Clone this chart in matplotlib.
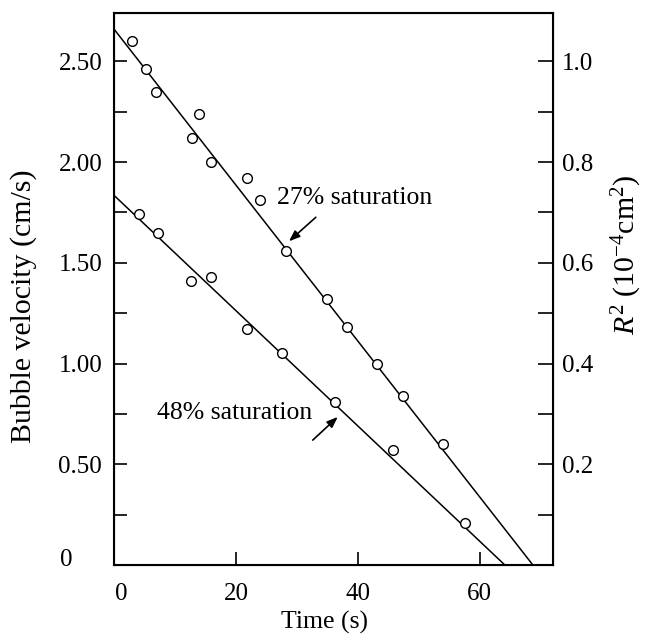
import matplotlib
matplotlib.use("Agg")
import matplotlib.pyplot as plt
import matplotlib.transforms as mtransforms
import numpy as np

plt.rcParams['font.family'] = 'Liberation Serif'
plt.rcParams['mathtext.fontset'] = 'custom'
plt.rcParams['mathtext.rm'] = 'Liberation Serif'
plt.rcParams['mathtext.it'] = 'Liberation Serif:italic'

# 27% saturation points (time s, velocity cm/s)
t27 = [2.95, 5.25, 6.9, 13.9, 12.8, 15.9, 21.8, 23.9, 28.2, 34.9, 38.2, 43.1, 47.4, 53.9]
v27 = [2.60, 2.46, 2.35, 2.24, 2.12, 2.00, 1.92, 1.81, 1.56, 1.32, 1.18, 1.00, 0.84, 0.60]

# 48% saturation points
t48 = [4.1, 7.2, 12.6, 15.9, 21.8, 27.5, 36.2, 45.7, 57.5]
v48 = [1.74, 1.65, 1.41, 1.43, 1.17, 1.05, 0.81, 0.57, 0.21]

# fitted lines: velocity at t=0 and time where velocity reaches 0
fit27 = [2.66, 68.7]
fit48 = [1.835, 64.1]

xticks = [0, 20, 40, 60]
yticks = [0, 0.5, 1.0, 1.5, 2.0, 2.5]
ylabels = ['0', '0.50', '1.00', '1.50', '2.00', '2.50']
r2ticks = [0.2, 0.4, 0.6, 0.8, 1.0]
r2labels = ['0.2', '0.4', '0.6', '0.8', '1.0']

fig = plt.figure(figsize=(6.45, 6.42), dpi=100)
ax = fig.add_axes([114/645, 1 - 565/642, 439/645, 552/642])

# fitted lines
ax.plot([0, fit27[1]], [fit27[0], 0], color='black', lw=1.1)
ax.plot([0, fit48[1]], [fit48[0], 0], color='black', lw=1.1)

# data points
ax.plot(t27, v27, 'o', mfc='white', mec='black', mew=1.0, ms=7)
ax.plot(t48, v48, 'o', mfc='white', mec='black', mew=1.0, ms=7)

ax.set_xlim(0, 72)
ax.set_ylim(0, 2.74)

ax.set_xticks(xticks)
ax.set_yticks(yticks)
ax.set_yticklabels(ylabels)
ax.set_yticks(np.arange(0.25, 2.5, 0.5), minor=True)
ax.tick_params(axis='both', which='both', direction='in', length=9.5, width=1.2, labelsize=18)
ax.tick_params(axis='x', pad=13)
ax.tick_params(axis='y', pad=8.5)
ax.tick_params(axis='y', which='both', right=False)

for s in ax.spines.values():
    s.set_linewidth(1.5)

# right hand axis, R^2 = 0.4 * velocity
ax2 = ax.twinx()
ax2.set_ylim(0, 2.74 * 0.4)
ax2.set_yticks(r2ticks)
ax2.set_yticklabels(r2labels)
ax2.set_yticks([0.1, 0.3, 0.5, 0.7, 0.9], minor=True)
ax2.tick_params(axis='y', which='both', direction='in', length=10.5, width=1.2, labelsize=18, pad=6.5)

# zero labels sit a bit off in the original
off = mtransforms.ScaledTranslation(-30/100, 7/100, fig.dpi_scale_trans)
lab = ax.yaxis.get_major_ticks()[0].label1
lab.set_transform(lab.get_transform() + off)
off = mtransforms.ScaledTranslation(7/100, 0, fig.dpi_scale_trans)
lab = ax.xaxis.get_major_ticks()[0].label1
lab.set_transform(lab.get_transform() + off)

ax.set_xlabel('Time (s)', fontsize=18.5)
ax.xaxis.set_label_coords(0.48, -0.083)
ax.set_ylabel('Bubble velocity (cm/s)', fontsize=21.5)
ax.yaxis.set_label_coords(-0.175, 0.469)
ax2.set_ylabel(r'$R^2$ (10$^{-4}$cm$^2$)', fontsize=21.5)
ax2.yaxis.set_label_coords(1.13, 0.562)

# annotations
arrow = dict(arrowstyle='-|>,head_length=0.65,head_width=0.25', color='black',
             lw=1.2, shrinkA=0, shrinkB=0)
ax.text(26.7, 1.82, '27% saturation', fontsize=18.5, va='center', ha='left')
ax.annotate('', xy=(28.7, 1.607), xytext=(33.1, 1.726), arrowprops=arrow)
ax.text(7.05, 0.754, '48% saturation', fontsize=18.5, va='center', ha='left')
ax.annotate('', xy=(36.7, 0.735), xytext=(32.6, 0.62), arrowprops=arrow)

fig.savefig('out.png', dpi=100)
